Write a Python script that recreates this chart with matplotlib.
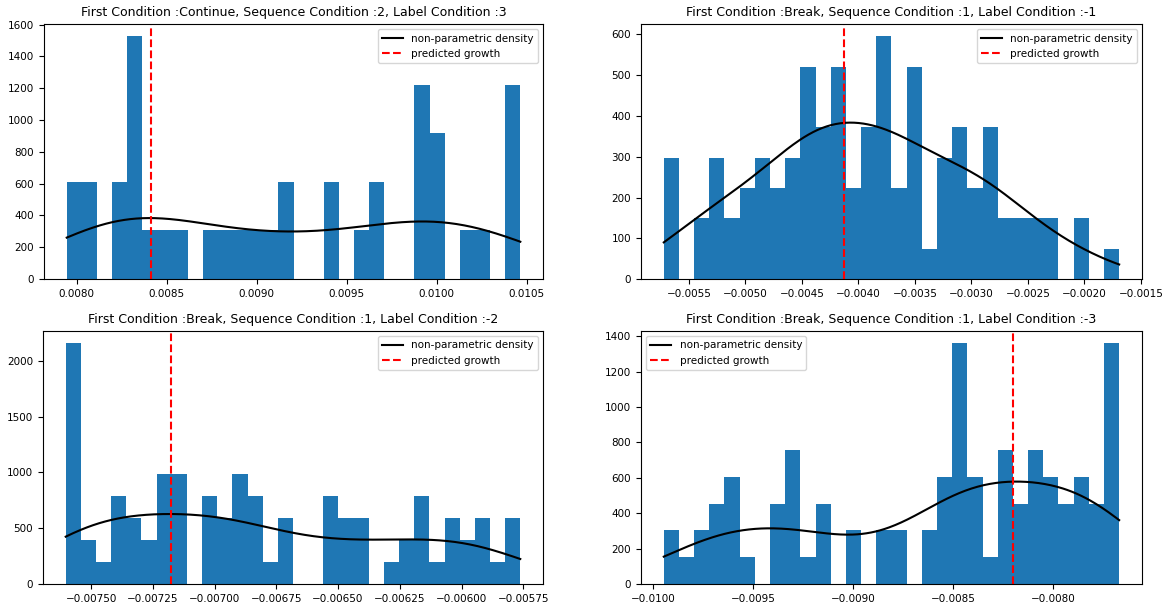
import numpy as np
import matplotlib.pyplot as plt

titles = [
    "First Condition :Continue, Sequence Condition :2, Label Condition :3",
    "First Condition :Break, Sequence Condition :1, Label Condition :-1",
    "First Condition :Break, Sequence Condition :1, Label Condition :-2",
    "First Condition :Break, Sequence Condition :1, Label Condition :-3",
]

# growth range covered by the 30 histogram bins of each condition
bin_ranges = [
    (0.007944, 0.010464),
    (-0.005723, -0.001693),
    (-0.007603, -0.005762),
    (-0.009947, -0.007668),
]

# observations per bin
counts_cont_2_3 = [2, 2, 0, 2, 5, 1, 1, 1, 0, 1, 1, 1, 1, 1, 2,
                   0, 0, 2, 0, 1, 2, 0, 0, 4, 3, 0, 1, 1, 0, 4]
counts_break_1_m1 = [4, 0, 2, 4, 2, 3, 4, 3, 4, 7, 5, 7, 3, 5, 8,
                     3, 7, 1, 4, 5, 3, 5, 2, 2, 2, 2, 0, 2, 0, 1]
counts_break_1_m2 = [11, 2, 1, 4, 3, 2, 5, 5, 0, 4, 3, 5, 4, 1, 3,
                     0, 0, 4, 3, 3, 0, 1, 2, 4, 1, 3, 2, 3, 1, 3]
counts_break_1_m3 = [2, 1, 2, 3, 4, 1, 0, 3, 5, 1, 3, 0, 2, 0, 2,
                     2, 0, 2, 4, 9, 4, 1, 5, 3, 5, 4, 3, 4, 3, 9]
all_counts = [counts_cont_2_3, counts_break_1_m1, counts_break_1_m2, counts_break_1_m3]

predicted_growth = [0.00841, -0.00413, -0.007178, -0.008198]
legend_locs = ["upper right", "upper right", "upper right", "upper left"]

n_bins = 30


def gaussian_kde(samples, grid):
    # Scott's rule bandwidth
    n = len(samples)
    bw = samples.std(ddof=1) * n ** (-1 / 5)
    z = (grid[:, None] - samples[None, :]) / bw
    return np.exp(-0.5 * z ** 2).sum(axis=1) / (n * bw * np.sqrt(2 * np.pi))


plt.rcParams["font.size"] = 7.5

fig = plt.figure(figsize=(11.68, 6.04), dpi=100)
positions = [
    [0.0377, 0.538, 0.4272, 0.422],
    [0.5488, 0.538, 0.4289, 0.422],
    [0.0368, 0.0331, 0.4281, 0.419],
    [0.5488, 0.0331, 0.4289, 0.419],
]

for i in range(4):
    ax = fig.add_axes(positions[i])
    lo, hi = bin_ranges[i]
    edges = np.linspace(lo, hi, n_bins + 1)
    centers = (edges[:-1] + edges[1:]) / 2
    counts = np.array(all_counts[i])

    ax.hist(centers, bins=edges, weights=counts, density=True, color="#1f77b4")

    samples = np.repeat(centers, counts)
    grid = np.linspace(lo, hi, 300)
    ax.plot(grid, gaussian_kde(samples, grid), color="black", lw=1.5,
            label="non-parametric density")
    ax.axvline(predicted_growth[i], color="red", ls="--", lw=1.5,
               label="predicted growth")

    ax.set_title(titles[i], fontsize=9)
    ax.legend(loc=legend_locs[i], fontsize=7.5)

fig.savefig("out.png", dpi=100)
